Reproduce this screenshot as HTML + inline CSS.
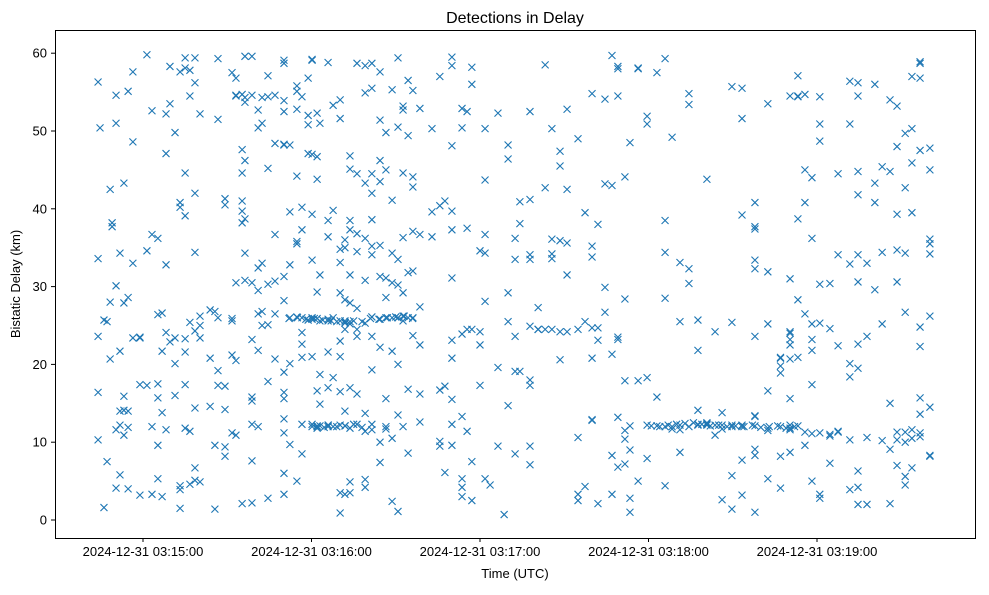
<!DOCTYPE html>
<html><head><meta charset="utf-8"><style>
body{margin:0;background:#fff;}
svg text{font-family:"Liberation Sans","DejaVu Sans",sans-serif;fill:#000;}
</style></head><body>
<svg id="chart" width="989" height="590" xmlns="http://www.w3.org/2000/svg">
<rect x="0" y="0" width="989" height="590" fill="#fff"/>
<text x="515" y="23" font-size="16" text-anchor="middle">Detections in Delay</text>
<text x="515" y="578" font-size="13" text-anchor="middle">Time (UTC)</text>
<text transform="translate(20,284) rotate(-90)" font-size="13" text-anchor="middle">Bistatic Delay (km)</text>
<g id="axes"></g>
<g id="marks"></g>
<rect x="55.5" y="30.5" width="920" height="508" fill="none" stroke="#000" stroke-width="1"/>
</svg>
<script>
// seconds after 03:15:00 for each column of detections
const times = [-16.0,-15.3,-13.9,-12.8,-11.7,-11.0,-9.6,-8.2,-6.8,-5.3,-3.6,-1.1,1.4,3.2,5.3,6.8,8.2,9.6,11.4,13.2,15.0,16.7,18.5,20.3,23.9,25.6,26.7,29.2,31.7,33.1,35.3,36.3,38.8,41.0,42.4,44.5,47.0,50.2,52.3,54.8,56.6,58.8,60.2,62.0,63.0,65.9,67.7,70.2,71.9,73.7,76.2,79.1,81.5,84.4,86.5,88.7,90.8,92.6,94.4,96.1,98.6,102.9,105.7,107.5,110.0,113.6,115.4,117.1,120.0,121.8,123.6,126.4,128.6,130.0,132.5,134.2,137.8,140.7,143.2,145.6,148.5,151.0,154.9,157.4,159.9,162.0,164.5,167.0,169.1,171.6,173.4,176.3,179.5,183.0,185.9,188.4,191.2,194.4,197.6,200.8,203.7,206.2,209.7,213.3,217.9,222.5,227.0,230.4,233.2,235.7,238.2,241.0,244.6,247.5,251.7,254.6,257.8,260.6,263.2,266.0,268.5,271.4,273.8,276.7,280.2];
const delays = [
[56.3,33.6,23.6,16.4,10.3],[50.4],[25.7,1.6],[7.5,25.5],[28,20.7,42.5],[38.2,37.7],
[54.6,51,30.1,11.6,4.1],[34.3,21.7,14,5.8,12.2],[43.3,27.9,15.9,10.9,14.1],[55.1,28.6,14,11.9,4],
[57.6,48.6,33,23.4],[23.4,23.5,17.4,3.2],[59.8,34.6,17.3],[52.6,36.7,12,3.3],[36.2,26.4,17.5,15.7,9.6,5.3],
[26.6,21.7,13.8,3],[52.2,47.1,32.8,24.1,11.6],[58.3,53.5,22.9],[49.8,23.4,16,20.1],[57.6,40.8,40.2,3.9,1.5,4.4],
[59.4,58.1,44.6,39.1,23.3,21.6,17.4,11.8],[57.8,54.5,25.4,11.4,4.6],[59.4,56.2,42,34.4,24.3,14.4,6.7,5.1],
[52.2,25,26.2,23.4,4.9],[27,14.6,20.8],[26.8,9.6,1.4],[59.3,51.5,26,19.2,17.3],[41.3,40.5,17.2,14.2,8.2,9.4],
[57.5,25.6,25.9,21.2,11.2],[54.5,54.6,56.8,30.5,20.5,10.9],[54.7,47.6,41,44.6,39.7,38.2,2.1],
[59.6,53.7,54.3,46.2,38.7,34.3,30.8],[59.6,54.6,30.5,15.8,15.3,23.2,12.3,7.6,2.2],[52.7,50.4,32.4,29.5,26.5,21.8,12],
[54.3,51,33,26.8,25],[57.1,54.4,45.2,30.3,25.1,17.8,2.8],[54.6,48.4,36.7,30.7,26.5,20.7],
[59.1,58.7,53.9,52.5,48.3,48.2,31.3,28.2,19,16.4,15.6,13,6,11.2,3.3],[48.2,39.6,32.8,20.1,9.7,26],
[55.8,55.1,52.8,44.2,35.5,35.8,26.1,5],[54.4,40.2,37.3,26,24.1,22.6,20.9,8.5,12.3],[52,50.8,56.8,47.1,25.7],
[59.1,59.2,47,39.3,33.4,26,25.8,21,12.3,12],[52.3,46.7,43.8,29.3,25.9,16.6,12,11.8],[51,31.5,25.6,18.7,14.9,12.1],
[58.8,38.5,36.4,25.8,25.6,21.6,17,12.2,12],[53.3,39.8,26,18.3,12],[51.6,54,34.8,33.1,29.2,25.6,23,21,16.5,12.2,3.5,0.9],
[36,35,28.3,25.6,25.3,24.5,14,12.1,3.3],[46.8,45.1,38.5,37.3,31.5,27.9,25.5,25.2,17,11.8,4.9,3.5],
[58.7,44.5,36.8,34.5,27.2,24.5,23.6,16.2,12.3],[58.4,54.9,43.3,36.2,30.8,25.3,11.4,13.7,5.2,4.2],
[58.7,55.5,44.5,42,38.6,35.2,34.1,26.1,23.6,19.3,12.3,11.6],[57.6,51.4,46.2,43.5,35.3,31.3,25.8,22.2,10,7.4],
[49.8,45,31.1,28.6,26,15.6,12,11.7],[55.3,41.1,34.3,30.5,26,21.7,10.5,2.4],[59.4,50.5,33.5,30.2,26,26,20,13.5,1.1],
[53.2,52.7,44.6,36.3,29.2,26.2,25.6,12],[56.5,49.4,31.8,26,16.8,8.6],[55.2,44.1,42.8,37.1,32,23.7,26],
[52.9,36.7,27.4,22.5,16.2,12.6],[50.3,36.4,39.6],[57,40.4,16.7,10.1,9.5],[41,17.2,6.1],
[58.4,59.5,48.1,39.7,37.3,31.1,23.1,20.8,15.5,12.3,9.6],[52.9,50.4,23.9,13.3,5.3,4.2,3],[52.5,37.5,24.5,11.4],
[56,58.2,24.5,7.5,2.5],[34.6,24.2,22.5,17.3],[50.3,43.7,36.7,34.3,28.1,5.3],[4.5],[52.3,19.6,9.5],[0.7],
[46.4,48.2,29.2,25.5,14.7],[36.2,33.5,23.6,19.1,8.5],[40.9,38.1,19.1],[52.5,41.2,34.1,33.5,24.9,18,7.1,9.5,17.3],
[27.3,24.5,24.5,24.5],[58.5,42.7,24.5],[50.3,36.1,34.2,33.6,24.5],[47.4,45.5,35.9,24.2,20.6],[52.8,42.5,35.6,31.5,24.2],
[49,24.5,10.6,2.5,3.3],[39.5,25.5,4.3],[54.8,35.2,33.8,24.7,20.8,12.9,12.8],[38,24.7,23.1,2.1],[54.1,43.2,29.9,26.7],
[59.7,43,21.3,8.3,3.3],[58,58.3,54.5,23.5,23.2,6.8,13.2],[44.1,28.4,17.9,10.4,11.5,7.2],[48.5,12.1,9,1,2.8],
[58,58.1,17.9,5],[51.9,50.9,18.3,7.9,12.2],[57.5,12.1,15.8],[59.3,34.4,28.5,38.5,4.4,12],[49.2,12,11.7],
[33.1,25.5,12.2,11.6,8.7],[53.4,54.8,32.3,30.4,12],[12.3,25.7,14.1,21.8,12.2],[43.8,12.2,12.4,12.3,12.5],
[12.2,24.2,10.9],[12.2,13.8,2.6,11.7],[12.2,55.7,25.4,5.7,1.4,12],[55.5,51.6,39.2,12.2,12,7.7,3.2],
[40.8,37.7,37.4,32.3,33.4,23.6,12.1,13.3,13.4,8.3,1,9.1],[53.5,31.9,25.2,16.6,11.8,11.5,5.3],
[20.9,20.8,19.8,18.9,12,8.2,4.1],[54.5,31,11.8,12.2,11.6,23.2,24.2,24,22.5,20.7,8.7,15.6],
[57.1,54.4,54.5,38.7,28.3,20.9,12.1],[54.7,45,40.8,26.5,11.3,9.6],[44,36.2,25.2,23.2,21.8,17.4,11.1,5],
[54.4,50.9,48.7,30.3,25.3,11.2,3.3,2.8],[30.4,24.6,11,10.8,7.3],[44.5,34.1,22.4,11.3,11.4],
[56.4,50.9,32.9,20.1,18.4,3.9,10.3],[56.2,54.5,44.8,41.8,34.1,30.6,22.6,19.5,6.3,4.2,2],[2,10.6,33,23.6],
[56,43.3,40.8,29.6],[45.4,34.4,25.2,10.2],[54,44.8,15,2.1,9.1],[53.2,48,39.3,30.6,11.3,10.3,34.7,7],
[49.7,42.7,34.3,26.7,11.3,10,5.6,4.5],[45.9,39.5,57,50.3,11.6,10.5,6.7],[58.9,58.7,56.8,47.5,22.3,24.8,15.7,13.6,11.2,10.7],
[47.8,45,36.1,35.5,34.2,26.2,8.3,8.2,14.5]
];
// dense track segments
const bandTimes = [52,55,58,61,64,67,69,72,75,78,81,84,87,90,93,96,62,64.5,66,69,72,75,78,181,184,187,190,193,196,199,202,205,208,211,214,217,220,223,226,229,232];
const bandDelays = [25.9,26,25.8,25.9,25.7,25.6,25.5,25.4,25.6,25.5,25.9,25.8,26,26.1,26.2,25.9,12.1,11.9,12.2,12,12.1,12.3,11.9,12.1,12,12.2,12.3,12.4,12.5,12.3,12.1,12.2,12,12.1,12,12.2,11.9,12,12.1,11.8,12];
const yTicks = [0,10,20,30,40,50,60];
const xTickSecs = [0,60,120,180,240];
const xTickLabels = ["2024-12-31 03:15:00","2024-12-31 03:16:00","2024-12-31 03:17:00","2024-12-31 03:18:00","2024-12-31 03:19:00"];

const NS="http://www.w3.org/2000/svg";
function xs(t){return 143+t*168.5/60;}
function ys(d){return 520-d*7.78;}
const axes=document.getElementById('axes');
const marks=document.getElementById('marks');
function mk(tag,attrs,parent){const e=document.createElementNS(NS,tag);for(const k in attrs)e.setAttribute(k,attrs[k]);parent.appendChild(e);return e;}
yTicks.forEach(v=>{
  const y=ys(v);
  const l=mk('line',{x1:51,x2:55,y1:y,y2:y,stroke:'#000'},axes);
  
  
  const t=mk('text',{x:47,y:y+4.5,'font-size':13,'text-anchor':'end'},axes);
  t.textContent=v;
  
  
});
xTickSecs.forEach((s,i)=>{
  const x=xs(s);
  const l=mk('line',{x1:x,x2:x,y1:538,y2:542,stroke:'#000'},axes);
  
  
  const t=mk('text',{x:x,y:556,'font-size':13,'text-anchor':'middle'},axes);
  t.textContent=xTickLabels[i];
  
  
});
function drawX(t,d){
  const cx=xs(t),cy=ys(d),r=3.5;
  const p=mk('path',{d:`M${cx-r},${cy-r}L${cx+r},${cy+r}M${cx-r},${cy+r}L${cx+r},${cy-r}`,stroke:'#1f77b4','stroke-width':1.1,fill:'none'},marks);
  
  
}
times.forEach((t,i)=>{(delays[i]||[]).forEach(d=>drawX(t,d));});
bandTimes.forEach((t,i)=>drawX(t,bandDelays[i]));
</script>
</body></html>
